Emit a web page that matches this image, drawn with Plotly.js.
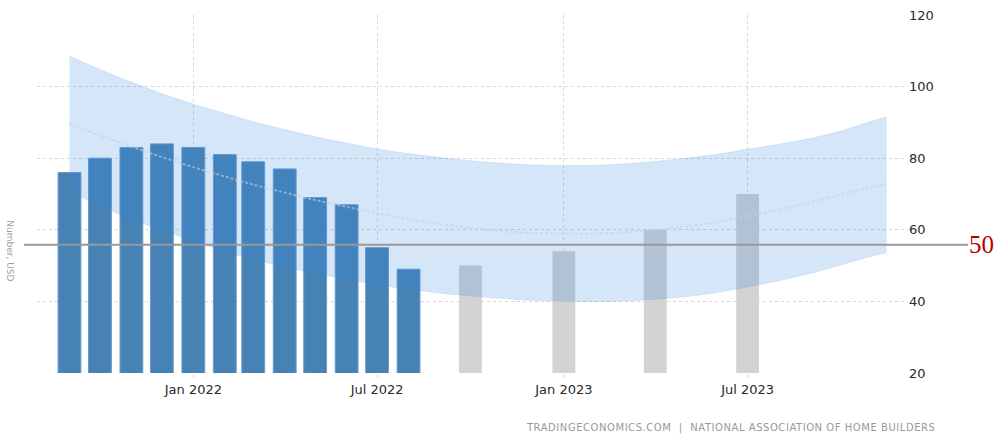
<!DOCTYPE html>
<html>
<head>
<meta charset="utf-8">
<script src="https://cdn.plot.ly/plotly-3.0.1.min.js"></script>
<style>
html,body{margin:0;padding:0;background:#fff;}
#chart{width:995px;height:434px;}
.annotation[data-index="2"] text{letter-spacing:0.55px;}
</style>
</head>
<body>
<div id="chart"></div>
<script>
// Actual values
const actualDates = ['2021-09-01','2021-10-01','2021-11-01','2021-12-01','2022-01-01','2022-02-01','2022-03-01','2022-04-01','2022-05-01','2022-06-01','2022-07-01','2022-08-01'];
const actualValues = [76, 80, 83, 84, 83, 81, 79, 77, 69, 67, 55, 49];
// Forecast values
const forecastDates = ['2022-10-01','2023-01-01','2023-04-01','2023-07-01'];
const forecastValues = [50, 54, 60, 70];
// Trend band
const bandDates = ['2021-09-01','2021-10-01','2021-11-01','2021-12-01','2022-01-01','2022-02-01','2022-03-01','2022-04-01','2022-05-01','2022-06-01','2022-07-01','2022-08-01','2022-09-01','2022-10-01','2022-11-01','2022-12-01','2023-01-01','2023-02-01','2023-03-01','2023-04-01','2023-05-01','2023-06-01','2023-07-01','2023-08-01','2023-09-01','2023-10-01','2023-11-01','2023-11-15'];
const bandUpper = [108.5,104.8,101.2,98.0,95.1,92.5,90.2,88.0,86.0,84.2,82.6,81.3,80.2,79.3,78.6,78.1,77.9,78.0,78.4,79.1,80.0,81.1,82.5,83.9,85.5,87.6,90.4,91.5];
const bandLower = [70.6,66.7,62.9,59.9,56.9,54.0,51.7,49.6,47.8,46.2,44.6,43.4,42.3,41.5,40.8,40.3,40.0,39.9,40.1,40.6,41.3,42.5,44.0,45.8,47.8,50.2,52.7,53.6];
const bandMid   = [89.5,86.3,83.2,80.3,77.5,74.9,72.6,70.4,68.3,66.4,64.6,63.0,61.6,60.5,59.6,59.1,58.9,58.9,59.3,60.0,60.9,62.2,63.8,65.6,67.7,69.9,72.0,72.8];
const refLineValue = 55.8;
const refLabel = '50';
const yTitle = 'Number, USD';
const sourceText = 'TRADINGECONOMICS.COM  |  NATIONAL ASSOCIATION OF HOME BUILDERS';

const dayMs = 86400000;
const traces = [
  {type:'bar', x: actualDates, y: actualValues, width: 22.5*dayMs,
   marker:{color:'#4682b4', line:{color:'#6b9dcc', width:1}}, hoverinfo:'x+y'},
  {type:'bar', x: forecastDates, y: forecastValues, width: 22.5*dayMs,
   marker:{color:'#d3d3d3', line:{color:'#d3d3d3', width:0}}, hoverinfo:'x+y'},
  {type:'scatter', mode:'lines', x: bandDates, y: bandLower, line:{color:'rgba(50,130,225,0.12)', width:1, shape:'spline', smoothing:0.6}, hoverinfo:'skip'},
  {type:'scatter', mode:'lines', x: bandDates, y: bandUpper, fill:'tonexty', fillcolor:'rgba(50,130,225,0.2)', line:{color:'rgba(50,130,225,0.15)', width:1, shape:'spline', smoothing:0.6}, hoverinfo:'skip'},
  {type:'scatter', mode:'lines', x: bandDates, y: bandMid, line:{color:'rgba(200,205,215,0.6)', width:2, shape:'spline', smoothing:0.6, dash:'3px,2px'}, hoverinfo:'skip'}
];

const layout = {
  width: 995, height: 434,
  margin: {l: 37, r: 87, t: 15, b: 61},
  paper_bgcolor: '#fff', plot_bgcolor: '#fff',
  showlegend: false,
  barmode: 'overlay',
  xaxis: {
    type: 'date', range: ['2021-07-31','2023-12-06'],
    tick0: '2022-01-01', dtick: 'M6', tickformat: '%b %Y',
    showgrid: true, gridcolor: '#d6d6d6', griddash: 'dot', gridwidth: 1,
    ticks: 'outside', ticklen: 4, tickcolor: '#d6d6d6',
    showline: false, zeroline: false,
    tickfont: {family: 'DejaVu Sans', size: 13, color: '#2a2a2a'}
  },
  yaxis: {
    side: 'right', range: [20, 120], tick0: 20, dtick: 20,
    showgrid: true, gridcolor: '#d6d6d6', griddash: 'dot', gridwidth: 1,
    zeroline: false, showline: false, ticks: '',
    tickfont: {family: 'DejaVu Sans', size: 13, color: '#2a2a2a'}
  },
  shapes: [
    {type:'line', xref:'paper', yref:'y', x0: -0.015, x1: 1.069, y0: refLineValue, y1: refLineValue,
     line:{color:'#999', width:2}}
  ],
  annotations: [
    {xref:'paper', yref:'y', x: 1.068, y: refLineValue, text: refLabel, showarrow:false, xanchor:'left', yanchor:'middle',
     font:{family:'Liberation Serif', size:25, color:'#b80000'}},
    {xref:'paper', yref:'paper', x: -0.031, y: 0.34, text: yTitle, showarrow:false, textangle: 90,
     xanchor:'center', yanchor:'middle', font:{family:'DejaVu Sans', size:9, color:'#a0a0a0'}},
    {xref:'paper', yref:'paper', x: 1.0138, y: -0.155, text: sourceText, showarrow:false, xanchor:'right', yanchor:'middle',
     font:{family:'DejaVu Sans', size:10, color:'#999'}}
  ]
};

Plotly.newPlot('chart', traces, layout, {displayModeBar:false, staticPlot:true});
</script>
</body>
</html>
